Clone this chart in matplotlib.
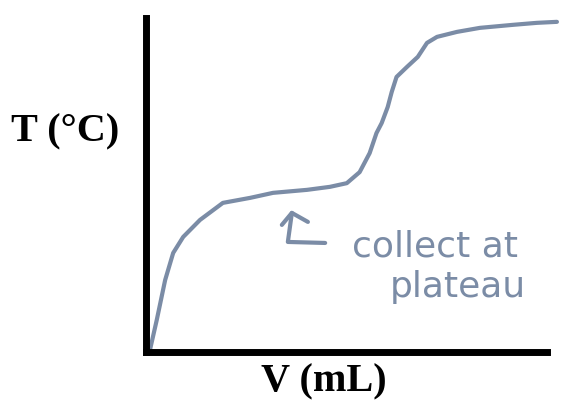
import matplotlib.pyplot as plt

# sketch of a distillation curve: temperature vs volume collected (arbitrary 0-100 units)
vol = [1.1, 2.8, 4.9, 6.9, 9.4, 13.6, 19.3, 26.1, 31.8, 40.3, 46.0, 50.2, 53.4, 55.9,
       57.6, 58.9, 60.4, 61.4, 62.6, 65.2, 67.9, 70.2, 72.7, 77.7, 83.4, 91.6, 97.6, 102.6]
temp = [0.4, 9.4, 21.4, 29.5, 34.3, 39.4, 44.5, 46.0, 47.5, 48.4, 49.3, 50.4, 53.7, 59.4,
        65.4, 68.4, 73.2, 77.7, 82.2, 85.2, 88.2, 92.4, 94.2, 95.7, 96.9, 97.8, 98.4, 98.7]

# hand drawn arrow pointing at the plateau
arrow_v = [34.0, 36.5, 40.5]
arrow_t = [37.9, 41.5, 38.8]
stem_v = [36.5, 35.5, 44.8]
stem_t = [41.5, 32.8, 32.5]

ink = '#7b8ca6'

fig = plt.figure(figsize=(5.77, 4.15), dpi=100)
ax = fig.add_axes([145.5/577, (415-351.5)/415, (546.5-145.5)/577, (351.5-17.5)/415])
ax.set_xlim(0, 100)
ax.set_ylim(0, 100)

ax.plot(vol, temp, color=ink, linewidth=3, solid_joinstyle='round',
        solid_capstyle='round', clip_on=False)
ax.plot(arrow_v, arrow_t, color=ink, linewidth=3, solid_joinstyle='round', solid_capstyle='round')
ax.plot(stem_v, stem_t, color=ink, linewidth=3, solid_joinstyle='round', solid_capstyle='round')

ax.text(51.5, 28.3, 'collect at', color=ink, fontsize=26, family='DejaVu Sans',
        va='baseline', ha='left')
ax.text(61.0, 16.3, 'plateau', color=ink, fontsize=26, family='DejaVu Sans',
        va='baseline', ha='left')

for s in ['top', 'right']:
    ax.spines[s].set_visible(False)
for s in ['left', 'bottom']:
    ax.spines[s].set_linewidth(5)
    ax.spines[s].set_color('black')
    ax.spines[s].set_capstyle('projecting')
ax.set_xticks([])
ax.set_yticks([])
ax.patch.set_alpha(0)

fig.text(65/577, 1-132/415, 'T (°C)', fontsize=29, family='Liberation Serif',
         fontweight='bold', ha='center', va='center')
fig.text(324/577, 1-382/415, 'V (mL)', fontsize=29, family='Liberation Serif',
         fontweight='bold', ha='center', va='center')

plt.savefig('out.png', dpi=100)
